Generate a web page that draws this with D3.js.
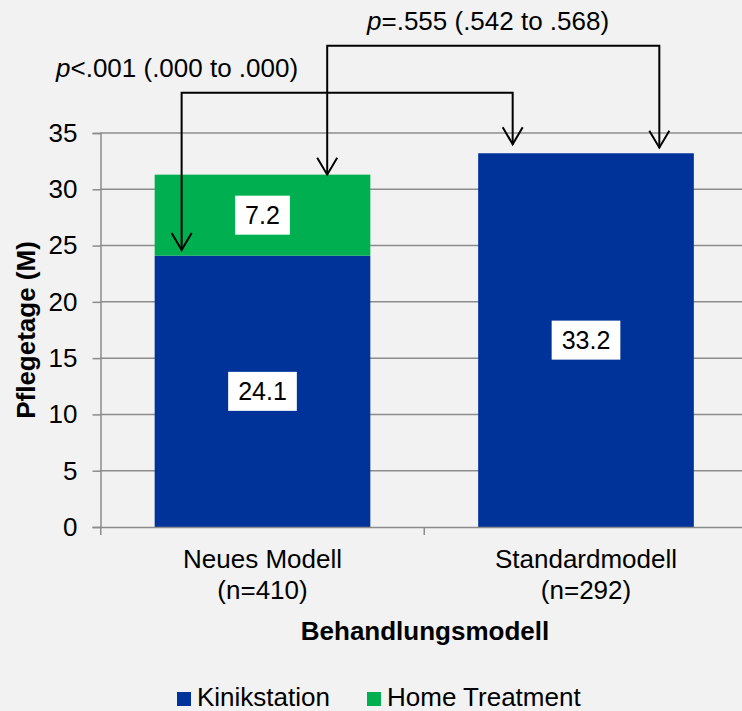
<!DOCTYPE html>
<html>
<head>
<meta charset="utf-8">
<script src="https://cdn.jsdelivr.net/npm/d3@7/dist/d3.min.js"></script>
<style>
  html, body { margin: 0; padding: 0; background: #f2f2f2; }
  svg { display: block; font-family: "Liberation Sans", Arial, sans-serif; }
</style>
</head>
<body>
<svg id="chart" width="742" height="711"></svg>
<script>
// ---- data ----
const categories = ["Neues Modell", "Standardmodell"];
const categoryN = ["(n=410)", "(n=292)"];
const seriesNames = ["Kinikstation", "Home Treatment"];
const kinikstation = [24.1, 33.2];
const homeTreatment = [7.2, 0];
const yTicks = [0, 5, 10, 15, 20, 25, 30, 35];
const pLabels = ["<.001 (.000 to .000)", "=.555 (.542 to .568)"];
// comparison arrows: [fromCategory, toCategory, fromTipValue, toTipValue]
const compFrom = [0, 0];
const compTo = [1, 1];
const compFromTip = [24.6, 31.3];
const compToTip = [34.0, 33.7];

const colors = ["#003399", "#00b050"];

const svg = d3.select("#chart");
const W = 742, H = 711;
const FS = 26;

const x = d3.scaleBand().domain(categories).range([100.75, 747.75])
  .paddingInner(1/3).paddingOuter(1/6);
const y = d3.scaleLinear().domain([0, 35]).range([527, 133]);

const gridColor = "#8c8c8c";

// gridlines
svg.append("g").selectAll("line").data(yTicks.filter(d => d > 0)).join("line")
  .attr("x1", 100).attr("x2", W)
  .attr("y1", d => y(d)).attr("y2", d => y(d))
  .attr("stroke", gridColor).attr("stroke-width", 1.5);

// y axis
const yAxis = d3.axisLeft(y).tickValues(yTicks).tickSize(8).tickPadding(15);
const gy = svg.append("g").attr("transform", "translate(100.5,0)").call(yAxis);
gy.select(".domain").attr("stroke", gridColor).attr("stroke-width", 1.5);
gy.selectAll(".tick line").attr("stroke", gridColor).attr("stroke-width", 1.5);
gy.selectAll(".tick text").attr("font-size", FS).attr("fill", "#000")
  .attr("font-family", "Liberation Sans, Arial, sans-serif");

// stacked data
const stackData = categories.map((c, i) => ({cat: c, k: kinikstation[i], h: homeTreatment[i]}));
const stack = d3.stack().keys(["k", "h"])(stackData);

const gBars = svg.append("g");
stack.forEach((layer, li) => {
  gBars.selectAll(null).data(layer.filter(d => d[1] - d[0] > 0)).join("rect")
    .attr("x", d => x(d.data.cat))
    .attr("width", x.bandwidth())
    .attr("y", d => y(d[1]))
    .attr("height", d => y(d[0]) - y(d[1]))
    .attr("fill", colors[li]);
});

// x axis
svg.append("line").attr("x1", 100).attr("x2", W).attr("y1", 527.5).attr("y2", 527.5)
  .attr("stroke", gridColor).attr("stroke-width", 1.5);
const boundaries = [x.range()[0], x.range()[0] + x.step()];
svg.append("g").selectAll("line").data(boundaries).join("line")
  .attr("x1", d => d).attr("x2", d => d).attr("y1", 527).attr("y2", 535)
  .attr("stroke", gridColor).attr("stroke-width", 1.5);

// x labels
const gxl = svg.append("g").attr("font-size", FS).attr("text-anchor", "middle").attr("fill", "#000");
categories.forEach((c, i) => {
  const cx = x(c) + x.bandwidth() / 2;
  gxl.append("text").attr("x", cx).attr("y", 568).text(c);
  gxl.append("text").attr("x", cx).attr("y", 599).text(categoryN[i]);
});
svg.append("text").attr("x", 425).attr("y", 640).attr("text-anchor", "middle")
  .attr("font-size", FS).attr("font-weight", "bold").text("Behandlungsmodell");

// y title
svg.append("text").attr("transform", "translate(35,330) rotate(-90)")
  .attr("text-anchor", "middle").attr("font-size", FS).attr("font-weight", "bold")
  .text("Pflegetage (M)");

// value labels
const gl = svg.append("g");
stack.forEach((layer) => {
  layer.filter(d => d[1] - d[0] > 0).forEach(d => {
    const cx = x(d.data.cat) + x.bandwidth() / 2;
    const cy = y((d[0] + d[1]) / 2);
    const val = (d[1] - d[0]).toFixed(1);
    const t = gl.append("text").attr("x", cx).attr("y", cy + 9)
      .attr("text-anchor", "middle").attr("font-size", 25).attr("fill", "#000").text(val);
    const bb = t.node().getBBox();
    gl.insert("rect", () => t.node())
      .attr("x", cx - bb.width / 2 - 10).attr("y", cy - 19.5)
      .attr("width", bb.width + 20).attr("height", 39).attr("fill", "#fff");
  });
});

// comparison brackets
const fromFrac = [0.125, 0.8];
const toFrac = [0.16, 0.84];
const bracketY = [92.7, 45.7];
const textY = [77, 30];
const textX = [56, 367];
const ga = svg.append("g").attr("fill", "none").attr("stroke", "#000").attr("stroke-width", 2);
compFrom.forEach((fi, i) => {
  const x1 = x(categories[fi]) + x.bandwidth() * fromFrac[i];
  const x2 = x(categories[compTo[i]]) + x.bandwidth() * toFrac[i];
  const t1 = y(compFromTip[i]);
  const t2 = y(compToTip[i]);
  const by = bracketY[i];
  ga.append("path").attr("d", `M${x1},${t1}V${by}H${x2}V${t2}`);
  [[x1, t1], [x2, t2]].forEach(([ax, ay]) => {
    ga.append("path").attr("d", `M${ax - 10},${ay - 17}L${ax},${ay}L${ax + 10},${ay - 17}`);
  });
  const tt = svg.append("text").attr("x", textX[i]).attr("y", textY[i])
    .attr("font-size", FS).attr("fill", "#000");
  tt.append("tspan").attr("font-style", "italic").text("p");
  tt.append("tspan").text(pLabels[i]);
});

// legend
const legX = [177, 367];
const gleg = svg.append("g");
seriesNames.forEach((s, i) => {
  gleg.append("rect").attr("x", legX[i]).attr("y", 692).attr("width", 14).attr("height", 14)
    .attr("fill", colors[i]);
  gleg.append("text").attr("x", legX[i] + 20).attr("y", 706).attr("font-size", FS)
    .attr("fill", "#000").text(s);
});
</script>
</body>
</html>
